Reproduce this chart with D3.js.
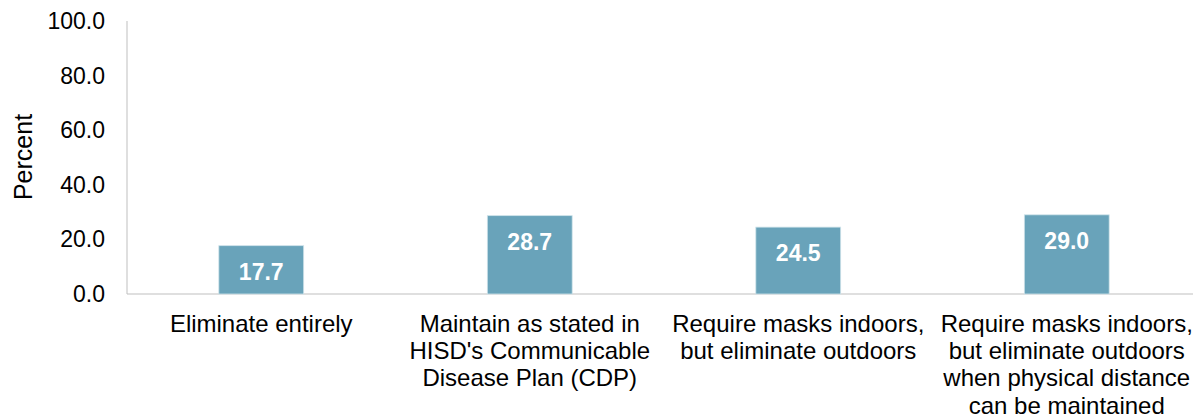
<!DOCTYPE html>
<html>
<head>
<meta charset="utf-8">
<script src="https://d3js.org/d3.v7.min.js"></script>
<style>
  body { margin: 0; background: #fff; }
  text { font-family: "Liberation Sans", Arial, sans-serif; }
</style>
</head>
<body>
<script>
var categories = [
  ["Eliminate entirely"],
  ["Maintain as stated in", "HISD's Communicable", "Disease Plan (CDP)"],
  ["Require masks indoors,", "but eliminate outdoors"],
  ["Require masks indoors,", "but eliminate outdoors", "when physical distance", "can be maintained"]
];
var values = [17.7, 28.7, 24.5, 29.0];
var yTicks = [0, 20, 40, 60, 80, 100];

var width = 1193, height = 420;
var margin = {top: 21, left: 127, right: -8, bottom: 126};

var svg = d3.select("body").append("svg")
    .attr("width", width)
    .attr("height", height);

var x = d3.scaleBand()
    .domain(d3.range(categories.length))
    .range([margin.left, width - margin.right])
    .paddingInner(0.684)
    .paddingOuter(0.342);

var y = d3.scaleLinear()
    .domain([0, 100])
    .range([height - margin.bottom, margin.top]);

// axis lines
svg.append("line")
    .attr("x1", margin.left).attr("x2", margin.left)
    .attr("y1", y(100)).attr("y2", y(0))
    .style("stroke", "#bfbfbf").style("stroke-width", 1);
svg.append("line")
    .attr("x1", margin.left).attr("x2", width)
    .attr("y1", y(0)).attr("y2", y(0))
    .style("stroke", "#bfbfbf").style("stroke-width", 1);

// y tick labels
svg.selectAll(".ytick").data(yTicks).enter().append("text")
    .attr("class", "ytick")
    .attr("x", 105)
    .attr("y", function(d) { return y(d); })
    .attr("dy", "0.35em")
    .style("text-anchor", "end")
    .style("font-size", "23px")
    .style("fill", "#000")
    .text(function(d) { return d.toFixed(1); });

svg.append("text")
    .attr("transform", "translate(32," + 157 + ") rotate(-90)")
    .style("text-anchor", "middle")
    .style("font-size", "25px")
    .text("Percent");

// bars
svg.selectAll(".bar").data(values).enter().append("rect")
    .attr("class", "bar")
    .attr("x", function(d, i) { return x(i); })
    .attr("width", x.bandwidth())
    .attr("y", function(d) { return y(d); })
    .attr("height", function(d) { return y(0) - y(d); })
    .style("fill", "#69a3ba")
    .style("stroke", "#cfe3ea")
    .style("stroke-width", 0.8);

svg.selectAll(".val").data(values).enter().append("text")
    .attr("class", "val")
    .attr("x", function(d, i) { return x(i) + x.bandwidth() / 2; })
    .attr("y", function(d) { return y(d) + 26; })
    .attr("dy", "0.35em")
    .style("text-anchor", "middle")
    .style("font-size", "23px")
    .style("font-weight", "bold")
    .style("fill", "#fff")
    .text(function(d) { return d.toFixed(1); });

// category labels
categories.forEach(function(lines, i) {
  var cx = x(i) + x.bandwidth() / 2;
  var t = svg.append("text")
      .style("text-anchor", "middle")
      .style("font-size", "24px")
      .style("fill", "#000");
  lines.forEach(function(l, j) {
    t.append("tspan")
      .attr("x", cx)
      .attr("y", 331.5 + j * 27.4)
      .text(l);
  });
});
</script>
</body>
</html>
